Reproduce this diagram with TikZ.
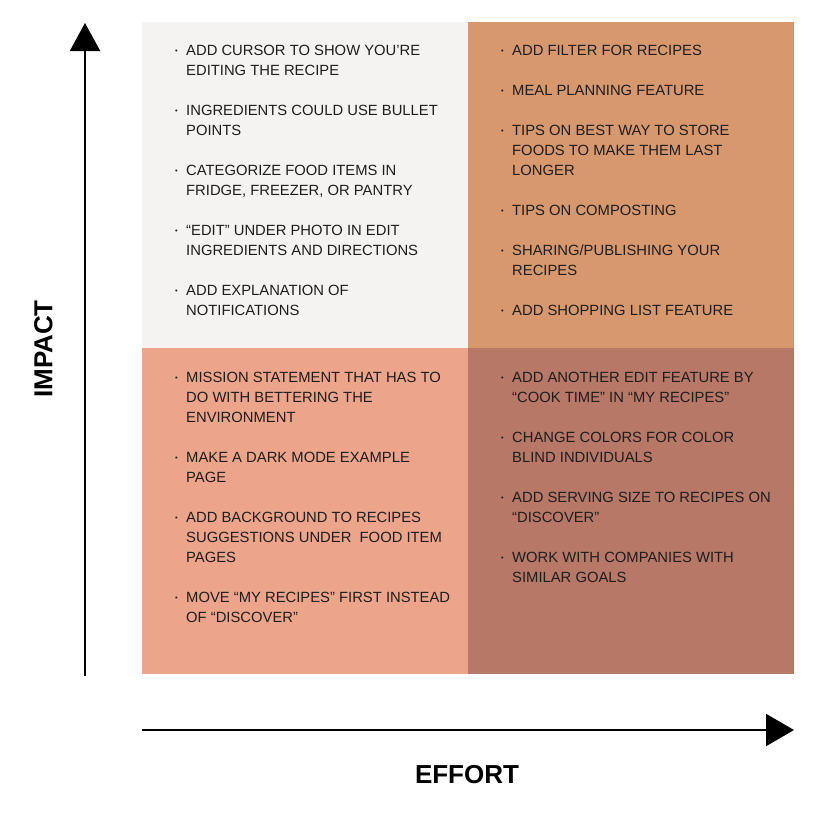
\documentclass[tikz,border=0pt]{standalone}
\usepackage{fontspec}
\setmainfont{Liberation Sans}
\usetikzlibrary{arrows.meta}
\definecolor{qtl}{HTML}{F4F3F1}
\definecolor{qtr}{HTML}{D7986D}
\definecolor{qbl}{HTML}{ECA58B}
\definecolor{qbr}{HTML}{B77867}
\definecolor{ink}{HTML}{1E1E1E}
\newcommand\qlist[1]{\begin{tabular}[t]{@{}p{11pt}@{}l@{}}#1\end{tabular}}
\newcommand\bu{\raisebox{2.2pt}{\fontsize{7.5}{8}\selectfont\textbullet}}
\begin{document}
\begin{tikzpicture}[x=1pt,y=-1pt,
  quadtext/.style={anchor=base west,inner sep=0pt,text=ink,
    font=\fontsize{14.8}{20}\selectfont},
  axislabel/.style={inner sep=0pt,font=\fontsize{26}{26}\selectfont\bfseries,text=black},
  axisline/.style={line width=2pt,-{Triangle[width=#1,length=28pt]}}]
\useasboundingbox (0,0) rectangle (817,817);
\fill[qtl] (142,22) rectangle (468,348);
\fill[qtr] (468,22) rectangle (794,348);
\fill[qbl] (142,348) rectangle (468,674);
\fill[qbr] (468,348) rectangle (794,674);

\node[quadtext] (tl) at (175,55.7) {\qlist{%
\bu & ADD CURSOR TO SHOW YOU’RE\\ & EDITING THE RECIPE\\ &\\
\bu & INGREDIENTS COULD USE BULLET\\ & POINTS\\ &\\
\bu & CATEGORIZE FOOD ITEMS IN\\ & FRIDGE, FREEZER, OR PANTRY\\ &\\
\bu & “EDIT” UNDER PHOTO IN EDIT\\ & INGREDIENTS AND DIRECTIONS\\ &\\
\bu & ADD EXPLANATION OF\\ & NOTIFICATIONS}};

\node[quadtext] (tr) at (501,55.7) {\qlist{%
\bu & ADD FILTER FOR RECIPES\\ &\\
\bu & MEAL PLANNING FEATURE\\ &\\
\bu & TIPS ON BEST WAY TO STORE\\ & FOODS TO MAKE THEM LAST\\ & LONGER\\ &\\
\bu & TIPS ON COMPOSTING\\ &\\
\bu & SHARING/PUBLISHING YOUR\\ & RECIPES\\ &\\
\bu & ADD SHOPPING LIST FEATURE}};

\node[quadtext] (bl) at (175,382.7) {\qlist{%
\bu & MISSION STATEMENT THAT HAS TO\\ & DO WITH BETTERING THE\\ & ENVIRONMENT\\ &\\
\bu & MAKE A DARK MODE EXAMPLE\\ & PAGE\\ &\\
\bu & ADD BACKGROUND TO RECIPES\\ & SUGGESTIONS UNDER\ \ FOOD ITEM\\ & PAGES\\ &\\
\bu & MOVE “MY RECIPES” FIRST INSTEAD\\ & OF “DISCOVER”}};

\node[quadtext] (br) at (501,382.7) {\qlist{%
\bu & ADD ANOTHER EDIT FEATURE BY\\ & “COOK TIME” IN “MY RECIPES”\\ &\\
\bu & CHANGE COLORS FOR COLOR\\ & BLIND INDIVIDUALS\\ &\\
\bu & ADD SERVING SIZE TO RECIPES ON\\ & “DISCOVER”\\ &\\
\bu & WORK WITH COMPANIES WITH\\ & SIMILAR GOALS}};

\coordinate (ybot) at (85,676);
\coordinate (ytop) at (85,23);
\coordinate (xleft) at (142,730);
\coordinate (xright) at (794,730);
\draw[axisline=30pt] (ybot) -- (ytop);
\draw[axisline=32pt] (xleft) -- (xright);

\node[axislabel,rotate=90] (impact) at (43.5,349) {IMPACT};
\node[axislabel] (effort) at (467,775) {EFFORT};
\end{tikzpicture}
\end{document}
